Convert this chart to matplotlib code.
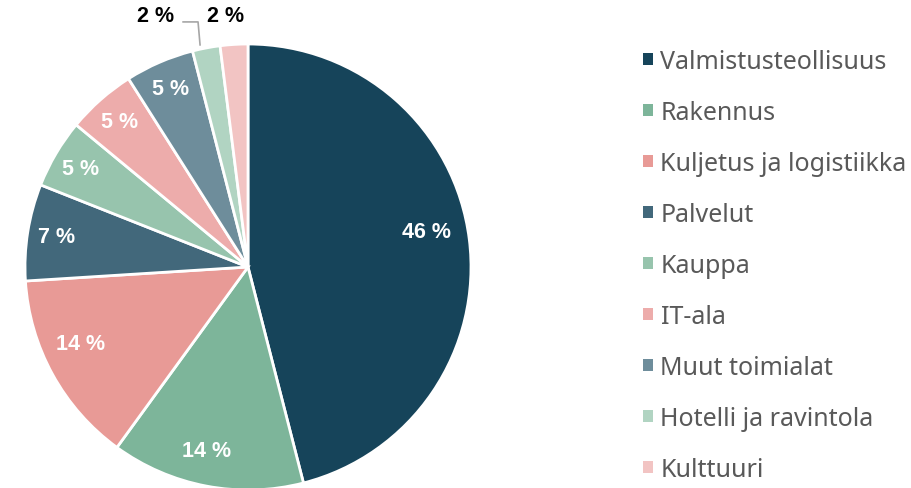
import matplotlib.pyplot as plt
from matplotlib.patches import Patch

categories = ['Valmistusteollisuus', 'Rakennus', 'Kuljetus ja logistiikka', 'Palvelut',
              'Kauppa', 'IT-ala', 'Muut toimialat', 'Hotelli ja ravintola', 'Kulttuuri']
shares = [46, 14, 14, 7, 5, 5, 5, 2, 2]
colors = ['#16445a', '#7db59a', '#e89a96', '#42687b', '#97c4ad',
          '#edacab', '#6e8d9b', '#b1d4c2', '#f2c4c3']

fig = plt.figure(figsize=(9.12, 4.89), dpi=100)
W, H = 912, 489
cx, cy, r = 248, 268, 223
ax = fig.add_axes([(cx - r) / W, (H - cy - r) / H, 2 * r / W, 2 * r / H])

wedges, texts = ax.pie(shares, colors=colors, startangle=90, counterclock=False,
                       labels=[f'{v} %' for v in shares], labeldistance=0.87,
                       wedgeprops=dict(edgecolor='white', linewidth=2))
for t in texts:
    t.set_family('Liberation Sans')
    t.set_fontweight('bold')
    t.set_fontsize(15.5)
    t.set_color('white')
    t.set_ha('center')
    t.set_va('center')

# nudge the bigger labels the way the original places them
texts[0].set_position((0.80, 0.157))
texts[1].set_position((-0.188, -0.825))
texts[2].set_position((-0.753, -0.345))

# the two small slices get their labels outside the pie
texts[-1].set_position((-0.099, 1.13))
texts[-1].set_color('black')
texts[-2].set_position((-0.413, 1.13))
texts[-2].set_color('black')
ax.plot([-0.215, -0.224, -0.291], [0.996, 1.099, 1.099], color='#a6a6a6', lw=1.2, clip_on=False)

ax.set_xlim(-1, 1)
ax.set_ylim(-1, 1)
ax.set_aspect('auto')
ax.axis('off')

handles = [Patch(facecolor=c, edgecolor='none') for c in colors]
leg = fig.legend(handles, categories, loc='upper left', bbox_to_anchor=(643 / W, 1 - 50 / H),
                 frameon=False, prop={'family': 'Noto Sans', 'size': 18},
                 labelcolor='#595959', handlelength=0.4, handleheight=0.4,
                 handletextpad=0.3, labelspacing=1.04, borderpad=0, borderaxespad=0)

fig.savefig('out.png', dpi=100)
